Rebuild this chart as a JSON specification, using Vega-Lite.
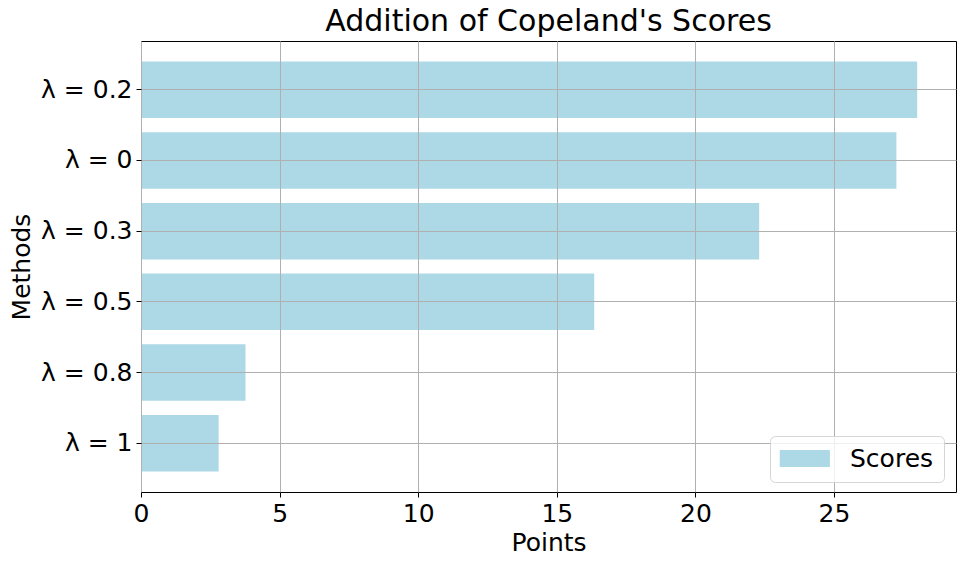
{
  "$schema": "https://vega.github.io/schema/vega-lite/v6.json",
  "width": 815,
  "height": 451,
  "autosize": {"type": "none"},
  "padding": {"left": 141, "top": 41, "right": 10, "bottom": 74},
  "background": "white",
  "title": {"text": "Addition of Copeland's Scores", "font": "DejaVu Sans", "fontSize": 30, "fontWeight": "normal", "color": "black", "offset": 4},
  "config": {
    "font": "DejaVu Sans",
    "view": {"stroke": "black", "strokeWidth": 1}
  },
  "data": {
    "values": [
      {"method": "λ = 0.2", "score": 28.0, "series": "Scores"},
      {"method": "λ = 0", "score": 27.25, "series": "Scores"},
      {"method": "λ = 0.3", "score": 22.3, "series": "Scores"},
      {"method": "λ = 0.5", "score": 16.35, "series": "Scores"},
      {"method": "λ = 0.8", "score": 3.77, "series": "Scores"},
      {"method": "λ = 1", "score": 2.8, "series": "Scores"}
    ]
  },
  "mark": {"type": "bar"},
  "encoding": {
    "y": {
      "field": "method", "type": "nominal", "sort": null,
      "scale": {"paddingInner": 0.2, "paddingOuter": 0.29},
      "axis": {"title": "Methods", "titleFontSize": 25, "titleFontWeight": "normal", "titleColor": "black", "labelFontSize": 25, "labelColor": "black", "tickColor": "black", "tickSize": 5, "labelPadding": 4, "domain": false, "grid": true, "gridColor": "#b0b0b0", "gridWidth": 1, "zindex": 1, "titlePadding": 6}
    },
    "x": {
      "field": "score", "type": "quantitative",
      "scale": {"domain": [0, 29.4], "nice": false, "zero": true},
      "axis": {"title": "Points", "values": [0, 5, 10, 15, 20, 25], "titleFontSize": 25, "titleFontWeight": "normal", "titleColor": "black", "labelFontSize": 25, "labelColor": "black", "tickColor": "black", "tickSize": 5, "labelPadding": 4, "domain": false, "grid": true, "gridColor": "#b0b0b0", "gridWidth": 1, "zindex": 1, "titlePadding": 4, "labelFlush": false}
    },
    "color": {
      "field": "series", "type": "nominal",
      "scale": {"range": ["#add8e6"]},
      "legend": {
        "title": null, "orient": "none", "legendX": 629, "legendY": 395, "zindex": 2,
        "symbolType": "M-1.5,-1H4.4V1H-1.5Z", "symbolSize": 289, "symbolStrokeWidth": 0,
        "labelFontSize": 25, "labelColor": "black", "labelOffset": 45,
        "fillColor": "rgba(255,255,255,0.8)", "strokeColor": "rgba(204,204,204,0.8)", "cornerRadius": 5, "padding": 10
      }
    }
  }
}
